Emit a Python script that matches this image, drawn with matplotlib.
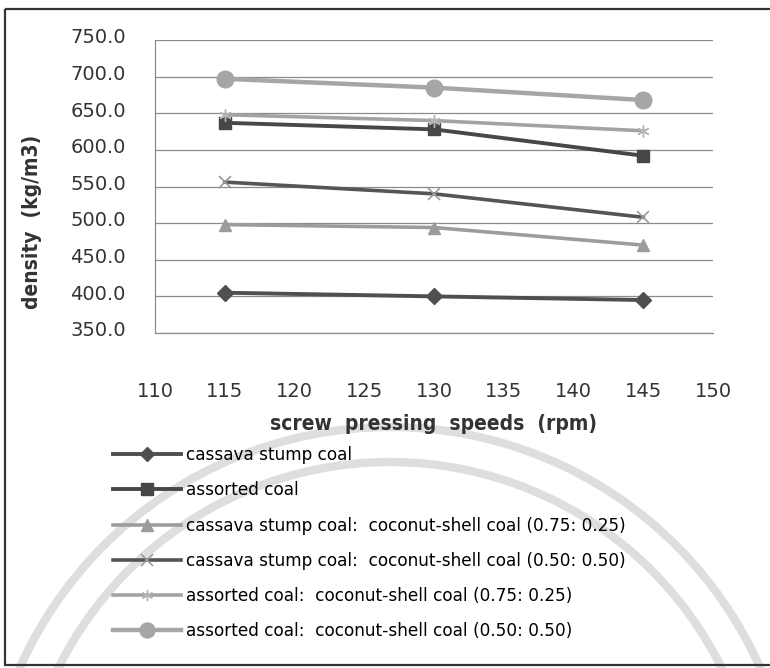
import matplotlib
matplotlib.use("Agg")
import matplotlib.pyplot as plt
from matplotlib.patches import Circle, Rectangle
from matplotlib.ticker import FormatStrFormatter
from matplotlib.transforms import ScaledTranslation

speeds = [115, 130, 145]

cassava = [405, 400, 395]
assorted = [637, 628, 592]
cassava_coco_75 = [498, 494, 470]
cassava_coco_50 = [556, 540, 508]
assorted_coco_75 = [648, 640, 626]
assorted_coco_50 = [697, 685, 668]

labels = [
    'cassava stump coal',
    'assorted coal',
    'cassava stump coal:  coconut-shell coal (0.75: 0.25)',
    'cassava stump coal:  coconut-shell coal (0.50: 0.50)',
    'assorted coal:  coconut-shell coal (0.75: 0.25)',
    'assorted coal:  coconut-shell coal (0.50: 0.50)',
]

x_ticks = [110, 115, 120, 125, 130, 135, 140, 145, 150]
y_ticks = [350, 400, 450, 500, 550, 600, 650, 700, 750]

fig = plt.figure(figsize=(7.7, 6.68), dpi=100)
fig.patch.set_facecolor('white')

# faint seal in the background
bg = fig.add_axes([0, 0, 1, 1], zorder=-5)
bg.set_xlim(0, 770)
bg.set_ylim(668, 0)
bg.axis('off')
for r in (405, 370):
    bg.add_patch(Circle((390, 832), r, fill=False, lw=6, ec='#dedede'))
# outer frame
bg.add_patch(Rectangle((5, 9), 800, 656, fill=False, lw=1.6, ec='#333333'))

ax = fig.add_axes([155/770, 1-333/668, 558/770, 293/668])
ax.set_facecolor('none')

ax.plot(speeds, cassava, color='#4f4f4f', lw=2.8, marker='D', ms=8,
        label=labels[0])
ax.plot(speeds, assorted, color='#474747', lw=2.8, marker='s', ms=9,
        label=labels[1])
ax.plot(speeds, cassava_coco_75, color='#9c9c9c', lw=2.6, marker='^', ms=9,
        label=labels[2])
ax.plot(speeds, cassava_coco_50, color='#555555', lw=2.6, marker='x', ms=9,
        mec='#9a9a9a', mew=1.2, label=labels[3])
ax.plot(speeds, assorted_coco_75, color='#a3a3a3', lw=2.6, marker=(6, 2, 0),
        ms=9, mec='#b5b5b5', mew=1.0, label=labels[4])
ax.plot(speeds, assorted_coco_50, color='#a6a6a6', lw=3.2, marker='o', ms=12,
        label=labels[5])

ax.set_xlim(110, 150)
ax.set_ylim(350, 750)
ax.set_xticks(x_ticks)
ax.set_yticks(y_ticks)
ax.yaxis.set_major_formatter(FormatStrFormatter('%.1f'))
ax.grid(axis='y', color='#8c8c8c', lw=0.9)
ax.set_axisbelow(True)
for s in ('top', 'right'):
    ax.spines[s].set_visible(False)
for s in ('left', 'bottom'):
    ax.spines[s].set_color('#8c8c8c')
    ax.spines[s].set_linewidth(0.9)
ax.tick_params(axis='both', length=0, labelsize=14, colors='#333333')
ax.tick_params(axis='x', pad=35)
ax.tick_params(axis='y', pad=21)

# value labels sit a little above their grid lines
lift = ScaledTranslation(0, 3/72, fig.dpi_scale_trans)
for t in ax.get_yticklabels():
    t.set_transform(t.get_transform() + lift)

ax.set_xlabel('screw  pressing  speeds  (rpm)', family='DejaVu Sans',
              fontstretch='condensed', fontweight='bold', fontsize=15,
              color='#333333', labelpad=10)
ax.set_ylabel('density  (kg/m3)', family='DejaVu Sans',
              fontstretch='condensed', fontweight='bold', fontsize=15,
              color='#333333')
ax.yaxis.set_label_coords(-0.203, 0.38)

fig.legend(loc='upper left', bbox_to_anchor=(113/770, 1-446/668),
           frameon=False, fontsize=12.2, handlelength=4.0, handletextpad=0.3,
           labelspacing=1.02, borderpad=0, borderaxespad=0, markerscale=0.9)

fig.savefig('out.png', dpi=100)
